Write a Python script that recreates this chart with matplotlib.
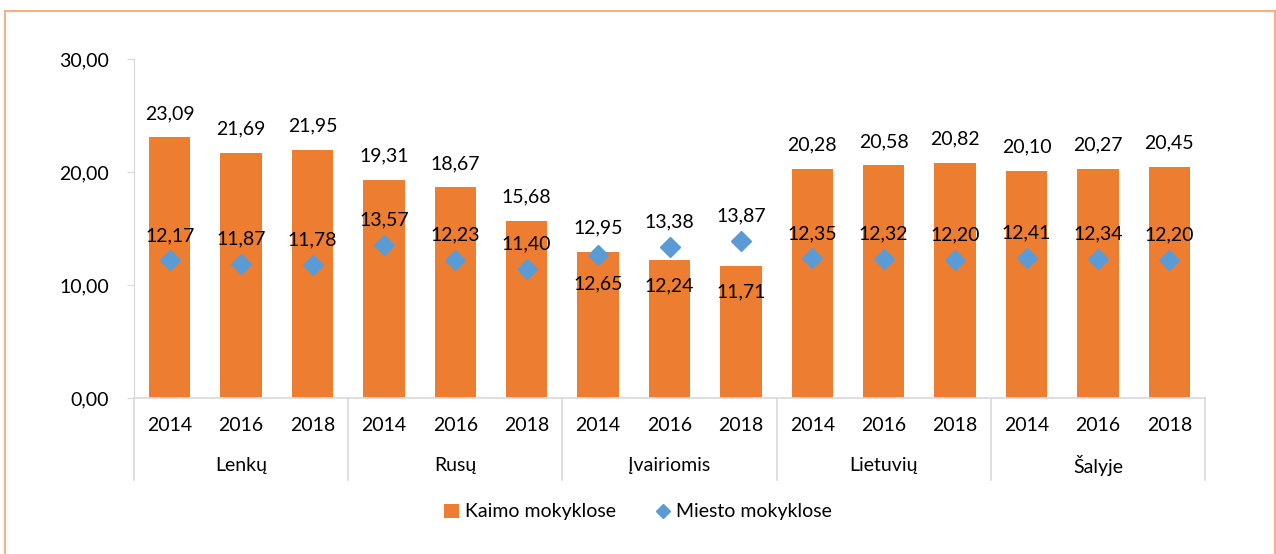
"""Kaimo ir miesto mokyklos: stulpeliai + rombai, grupuota x ašis."""

import matplotlib
matplotlib.use("Agg")
import matplotlib.pyplot as plt
import numpy as np
from matplotlib.lines import Line2D
from matplotlib.patches import Patch
from matplotlib.ticker import FuncFormatter
import matplotlib.transforms as mtransforms

groups = ["Lenkų", "Rusų", "Įvairiomis", "Lietuvių", "Šalyje"]
years = ["2014", "2016", "2018"]
kaimo = [23.09, 21.69, 21.95, 19.31, 18.67, 15.68, 12.95, 12.24, 11.71,
         20.28, 20.58, 20.82, 20.10, 20.27, 20.45]
miesto = [12.17, 11.87, 11.78, 13.57, 12.23, 11.40, 12.65, 13.38, 13.87,
          12.35, 12.32, 12.20, 12.41, 12.34, 12.20]

# etikečių vieta (kaip originale): +1 virš, -1 po tašku
kaimo_side = [1, 1, 1, 1, 1, 1, 1, -1, -1, 1, 1, 1, 1, 1, 1]
miesto_side = [1, 1, 1, 1, 1, 1, -1, 1, 1, 1, 1, 1, 1, 1, 1]

ORANGE = "#ED7D31"
BLUE = "#5B9BD5"
GRID = "#D9D9D9"
FONT = "Lato"
FS = 14

plt.rcParams["font.family"] = [FONT, "DejaVu Sans"]


def fmt(v):
    return f"{v:.2f}".replace(".", ",")


fig = plt.figure(figsize=(12.76, 5.54), dpi=100)
ax = fig.add_axes([134 / 1276, 1 - 398 / 554, (1205 - 134) / 1276, (398 - 59) / 554])

x = np.arange(len(kaimo))
ax.bar(x, kaimo, width=0.58, color=ORANGE, zorder=2)
ax.plot(x, miesto, linestyle="none", marker="D", markersize=10.5,
        color=BLUE, zorder=3)

for xi, v, s in zip(x, kaimo, kaimo_side):
    ax.annotate(fmt(v), (xi, v), xytext=(0, 17 if s > 0 else -19),
                textcoords="offset points", ha="center", va="center",
                fontsize=FS, color="#000000", zorder=4)
for xi, v, s in zip(x, miesto, miesto_side):
    ax.annotate(fmt(v), (xi, v), xytext=(0, 18 if s > 0 else -21),
                textcoords="offset points", ha="center", va="center",
                fontsize=FS, color="#000000", zorder=4)

ax.set_xlim(-0.5, len(kaimo) - 0.5)
ax.set_ylim(0, 30)
ax.set_yticks([0, 10, 20, 30])
ax.yaxis.set_major_formatter(FuncFormatter(lambda v, _: fmt(v)))
ax.tick_params(axis="y", length=5, color=GRID, labelsize=FS, pad=13)

ax.set_xticks(x)
ax.set_xticklabels(years * len(groups), fontsize=FS)
ax.tick_params(axis="x", length=0, pad=14)

for side in ["top", "right"]:
    ax.spines[side].set_visible(False)
ax.spines["left"].set_color(GRID)
ax.spines["bottom"].set_color(GRID)
ax.spines["bottom"].set_linewidth(1.2)

trans = mtransforms.blended_transform_factory(ax.transData, ax.transAxes)
for b in np.arange(0, len(kaimo) + 1, 3) - 0.5:
    ax.plot([b, b], [0, -0.242], transform=trans, color=GRID, lw=1.2,
            clip_on=False)
for i, g in enumerate(groups):
    ax.text(3 * i + 1, -0.2, g, transform=trans, ha="center", va="center",
            fontsize=FS)

handles = [Patch(facecolor=ORANGE, label="Kaimo mokyklose"),
           Line2D([], [], linestyle="none", marker="D", markersize=7,
                  color=BLUE, label="Miesto mokyklose")]
fig.legend(handles=handles, loc="center", bbox_to_anchor=(0.5, 1 - 512 / 554),
           ncol=2, frameon=False, fontsize=FS, handlelength=0.8,
           handletextpad=0.3, columnspacing=2.0)

fig.patches.append(plt.Rectangle((5 / 1276, -0.05), 1270 / 1276, 1 - 11 / 554 + 0.05,
                                 transform=fig.transFigure, fill=False,
                                 edgecolor="#F4B183", lw=1.5))

fig.savefig("out.png", dpi=100)
